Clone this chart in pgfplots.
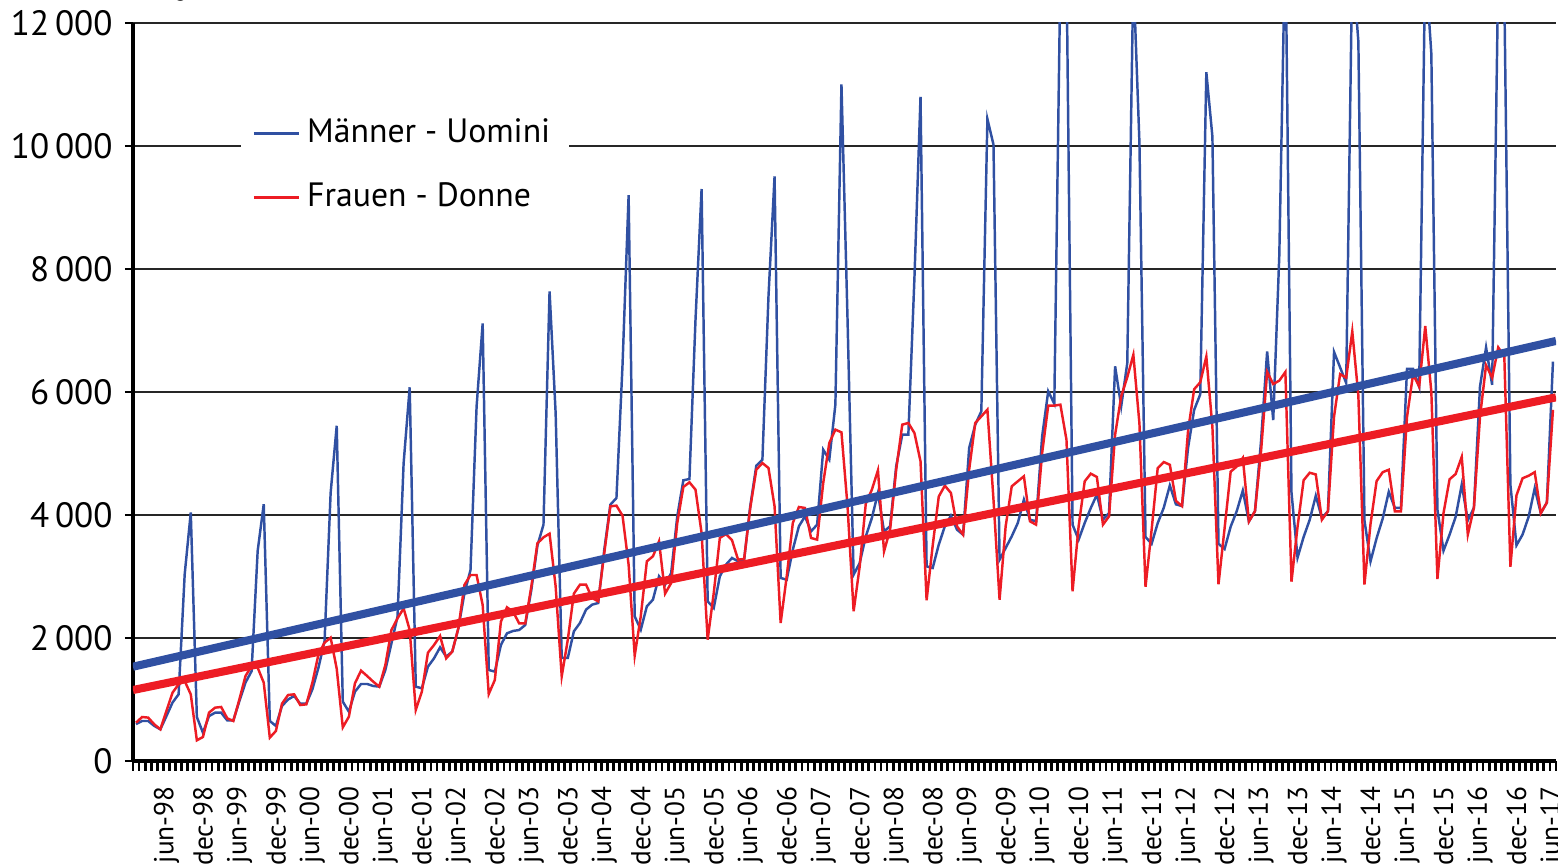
\documentclass[border=0pt]{standalone}
\usepackage{pgfplots}
\pgfplotsset{compat=1.18}
\usepackage{pgfplotstable}
\usepackage{fontspec}
\setmainfont{PT Sans}
\usetikzlibrary{calc}

\definecolor{mblue}{RGB}{48,80,162}
\definecolor{fred}{RGB}{237,28,36}

% monthly values, jan-98 (i=0) to jun-17 (i=233); m = Maenner, f = Frauen
\pgfplotstableread{
i m f
0 600 623
1 650 715
2 650 705
3 570 596
4 515 515
5 730 813
6 950 1111
7 1084 1247
8 3035 1300
9 4040 1084
10 715 336
11 460 390
12 730 786
13 785 867
14 785 878
15 660 694
16 660 650
17 975 1003
18 1275 1382
19 1460 1545
20 3415 1518
21 4175 1274
22 650 380
23 570 488
24 895 932
25 1000 1073
26 1057 1084
27 932 910
28 932 921
29 1165 1274
30 1518 1734
31 1950 1924
32 4360 2005
33 5450 1500
34 965 547
35 802 720
36 1127 1263
37 1252 1469
38 1252 1382
39 1220 1290
40 1209 1209
41 1480 1561
42 1913 2130
43 2347 2320
44 4840 2482
45 6076 2130
46 1209 829
47 1182 1127
48 1534 1761
49 1669 1886
50 1848 2032
51 1696 1669
52 1778 1778
53 2157 2157
54 2726 2862
55 3106 3024
56 5761 3024
57 7116 2536
58 1480 1089
59 1453 1317
60 1886 2266
61 2076 2499
62 2114 2428
63 2130 2238
64 2211 2238
65 2780 2834
66 3500 3539
67 3843 3637
68 7637 3696
69 5658 2840
70 1675 1377
71 1675 1973
72 2108 2721
73 2244 2867
74 2461 2867
75 2542 2650
76 2569 2596
77 3436 3382
78 4168 4141
79 4276 4152
80 6444 3989
81 9200 3192
82 2352 1713
83 2135 2352
84 2515 3247
85 2623 3328
86 3003 3572
87 2867 2721
88 3057 2894
89 3978 3870
90 4564 4455
91 4585 4531
92 7176 4412
93 9300 3707
94 2596 1973
95 2488 2732
96 3003 3626
97 3192 3690
98 3301 3590
99 3247 3274
100 3274 3285
101 4141 4114
102 4802 4737
103 4900 4845
104 7555 4764
105 9507 4141
106 2976 2244
107 2948 3003
108 3436 3870
109 3816 4130
110 3978 4114
111 3734 3626
112 3843 3599
113 5062 4520
114 4900 5171
115 5794 5388
116 11000 5344
117 7176 4141
118 3030 2434
119 3219 3165
120 3653 4184
121 3951 4412
122 4358 4726
123 3734 3409
124 3816 3761
125 4791 4737
126 5306 5469
127 5306 5496
128 7854 5333
129 10800 4873
130 3165 2612
131 3138 3500
132 3518 4300
133 3816 4477
134 3989 4358
135 3761 3816
136 3680 3680
137 5089 4737
138 5469 5496
139 5686 5604
140 10439 5713
141 10022 4249
142 3274 2623
143 3463 3816
144 3653 4466
145 3870 4548
146 4249 4629
147 3924 3897
148 3897 3843
149 5279 5008
150 6011 5778
151 5810 5778
152 12800 5794
153 13000 5225
154 3843 2759
155 3599 3816
156 3870 4548
157 4114 4672
158 4331 4618
159 3924 3843
160 4032 3978
161 6417 5306
162 5767 5929
163 6471 6240
164 12800 6605
165 10050 5486
166 3643 2833
167 3531 3754
168 3866 4760
169 4118 4861
170 4481 4816
171 4173 4229
172 4145 4145
173 5095 5375
174 5710 6045
175 5961 6157
176 11200 6576
177 10151 5431
178 3531 2872
179 3447 3782
180 3810 4704
181 4062 4788
182 4397 4928
183 3894 3894
184 4062 4062
185 5207 5039
186 6660 6325
187 5542 6129
188 8224 6185
189 13500 6325
190 4369 2916
191 3307 3810
192 3643 4565
193 3922 4687
194 4313 4659
195 3950 3922
196 4062 4060
197 6650 5600
198 6400 6290
199 6145 6232
200 13000 6985
201 11700 5942
202 3913 2870
203 3246 3855
204 3623 4551
205 3942 4696
206 4377 4736
207 4116 4058
208 4116 4058
209 6377 5594
210 6377 6290
211 6087 6087
212 13000 7072
213 11500 6000
214 4087 2957
215 3420 4029
216 3681 4580
217 3971 4667
218 4493 4945
219 3913 3681
220 4116 4116
221 6087 5594
222 6725 6435
223 6116 6232
224 12800 6725
225 12500 6580
226 4493 3159
227 3507 4319
228 3681 4597
229 3971 4638
230 4435 4696
231 4029 4029
232 4203 4203
233 6493 5710
}\monthly

\begin{document}
\begin{tikzpicture}
\begin{axis}[
    scale only axis,
    width=14.23cm, height=7.38cm,
    xmin=-0.5, xmax=233.5,
    ymin=0, ymax=12000,
    axis lines*=left,
    axis line style={line width=1pt, black},
    tick align=outside,
    major tick length=0.08cm,
    minor tick length=0.1cm,
    ytick={0,2000,4000,6000,8000,10000,12000},
    yticklabels={0, 2\,000, 4\,000, 6\,000, 8\,000, 10\,000, 12\,000},
    ytick style={black, line width=0.8pt},
    ymajorgrids=true,
    grid style={line width=0.45pt, black!85},
    xtick={5,11,...,233},
    xticklabels={jun-98,dec-98,jun-99,dec-99,jun-00,dec-00,jun-01,dec-01,
      jun-02,dec-02,jun-03,dec-03,jun-04,dec-04,jun-05,dec-05,jun-06,dec-06,
      jun-07,dec-07,jun-08,dec-08,jun-09,dec-09,jun-10,dec-10,jun-11,dec-11,
      jun-12,dec-12,jun-13,dec-13,jun-14,dec-14,jun-15,dec-15,jun-16,dec-16,jun-17},
    xtick style={draw=none},
    minor xtick={-0.5,0.5,...,233.5},
    minor x tick style={draw=black, line width=0.8pt},
    y tick label style={font=\fontsize{10}{12}\selectfont},
    x tick label style={font=\fontsize{7.8}{9}\selectfont, rotate=90, anchor=east},
    xticklabel shift=0.05cm,
    legend style={at={(rel axis cs:0.0752,0.8943)}, anchor=north west,
      draw=none, fill=white, font=\fontsize{9.6}{11}\selectfont,
      row sep=0.21cm, inner xsep=0.12cm, inner ysep=0.1cm},
    legend cell align=left,
    legend image code/.code={\draw[#1] (0cm,0cm) -- (0.45cm,0cm);},
  ]
  \addplot[mblue, line width=0.7pt] table[x=i, y=m] {\monthly};
  \addlegendentry{Männer - Uomini}
  \addplot[fred, line width=0.7pt] table[x=i, y=f] {\monthly};
  \addlegendentry{Frauen - Donne}

  % linear trends
  \addplot[mblue, line width=2.3pt, forget plot] coordinates {(-0.5,1533) (233.5,6830)};
  \addplot[fred, line width=2.3pt, forget plot] coordinates {(-0.5,1154) (233.5,5913)};

  \coordinate (sw) at (rel axis cs:0,0);
  \coordinate (ne) at (rel axis cs:1,1);
\end{axis}
\pgfresetboundingbox
\path[use as bounding box] ($(sw)+(-1.33cm,-1.03cm)$) rectangle ($(ne)+(0.02cm,0.23cm)$);
\end{tikzpicture}
\end{document}
